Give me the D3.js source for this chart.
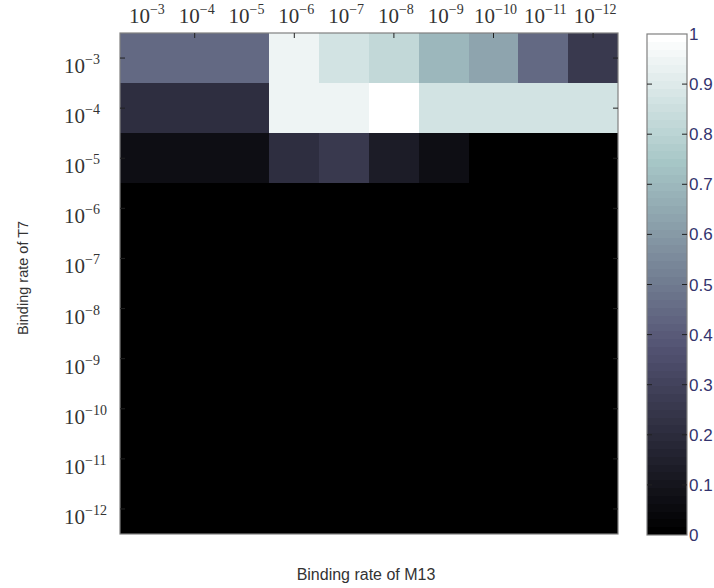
<!DOCTYPE html>
<html>
<head>
<meta charset="utf-8">
<script src="https://cdn.jsdelivr.net/npm/d3@7"></script>
<style>
  body { margin: 0; background: #fff; }
  .tick-lbl { font-family: "Liberation Serif", "DejaVu Serif", serif; fill: #333; }
  .title { font-family: "Liberation Sans", Arial, sans-serif; fill: #333; }
  .cb-lbl { font-family: "Liberation Sans", Arial, sans-serif; fill: #34346e; font-size: 17px; }
</style>
</head>
<body>
<div id="chart"></div>
<script>
// M13 binding rate (columns) and T7 binding rate (rows), exponents of 10
const m13Exp = [-3, -4, -5, -6, -7, -8, -9, -10, -11, -12];
const t7Exp = [-3, -4, -5, -6, -7, -8, -9, -10, -11, -12];

// one row per T7 rate
const row3 = [0.45, 0.45, 0.45, 0.95, 0.88, 0.82, 0.70, 0.63, 0.45, 0.25];
const row4 = [0.20, 0.20, 0.20, 0.95, 0.95, 1.00, 0.88, 0.88, 0.88, 0.88];
const row5 = [0.07, 0.07, 0.07, 0.20, 0.26, 0.13, 0.07, 0, 0, 0];
const row6 = [0, 0, 0, 0, 0, 0, 0, 0, 0, 0];
const row7 = [0, 0, 0, 0, 0, 0, 0, 0, 0, 0];
const row8 = [0, 0, 0, 0, 0, 0, 0, 0, 0, 0];
const row9 = [0, 0, 0, 0, 0, 0, 0, 0, 0, 0];
const row10 = [0, 0, 0, 0, 0, 0, 0, 0, 0, 0];
const row11 = [0, 0, 0, 0, 0, 0, 0, 0, 0, 0];
const row12 = [0, 0, 0, 0, 0, 0, 0, 0, 0, 0];
const rows = [row3, row4, row5, row6, row7, row8, row9, row10, row11, row12];

const cbTicks = [0, 0.1, 0.2, 0.3, 0.4, 0.5, 0.6, 0.7, 0.8, 0.9, 1];

// matlab "bone" colormap
function bone(v) {
  const cl = t => Math.max(0, Math.min(1, t));
  const hr = cl(v / 0.375), hg = cl((v - 0.375) / 0.375), hb = cl((v - 0.75) / 0.25);
  return d3.rgb(255 * (7 * v + hb) / 8, 255 * (7 * v + hg) / 8, 255 * (7 * v + hr) / 8);
}
// matlab colormaps have 64 levels
const quant = v => Math.round(v * 63) / 63;

const svg = d3.select("#chart").append("svg")
  .attr("width", 714)
  .attr("height", 588);

const x = d3.scaleBand().domain(m13Exp).range([120, 618]);
const y = d3.scaleBand().domain(t7Exp).range([33, 534]);

const cells = [];
rows.forEach((r, i) => r.forEach((v, j) => cells.push({ t7: t7Exp[i], m13: m13Exp[j], v: v })));

svg.append("g")
  .attr("shape-rendering", "crispEdges")
  .selectAll("rect")
  .data(cells)
  .join("rect")
  .attr("x", d => Math.round(x(d.m13)))
  .attr("y", d => Math.round(y(d.t7)))
  .attr("width", d => Math.round(x(d.m13) + x.bandwidth()) - Math.round(x(d.m13)))
  .attr("height", d => Math.round(y(d.t7) + y.bandwidth()) - Math.round(y(d.t7)))
  .attr("fill", d => bone(quant(d.v)));

svg.append("rect")
  .attr("x", 120).attr("y", 33)
  .attr("width", 498).attr("height", 501)
  .attr("fill", "none")
  .attr("stroke", "#808080")
  .attr("stroke-width", 1.2);

// inner ticks
const tickCols = m13Exp.filter((d, i) => i % 2 === 1);
svg.append("g").selectAll("line")
  .data(tickCols)
  .join("line")
  .attr("x1", d => x(d) + x.bandwidth() / 2)
  .attr("x2", d => x(d) + x.bandwidth() / 2)
  .attr("y1", 33).attr("y2", 38)
  .attr("stroke", "#222");
svg.append("g").selectAll("line")
  .data(t7Exp)
  .join("line")
  .attr("x1", 120).attr("x2", 125)
  .attr("y1", d => y(d) + y.bandwidth() / 2)
  .attr("y2", d => y(d) + y.bandwidth() / 2)
  .attr("stroke", "#222");
svg.append("g").selectAll("line")
  .data(t7Exp)
  .join("line")
  .attr("x1", 613).attr("x2", 618)
  .attr("y1", d => y(d) + y.bandwidth() / 2)
  .attr("y2", d => y(d) + y.bandwidth() / 2)
  .attr("stroke", "#222");

// 10^n labels
function powLabel(sel) {
  sel.append("tspan").attr("font-size", 21).text("10");
  sel.append("tspan").attr("font-size", 14).attr("dy", -9).text(d => "\u2212" + Math.abs(d));
}

svg.append("g").selectAll("text")
  .data(m13Exp)
  .join("text")
  .attr("class", "tick-lbl")
  .attr("x", d => x(d) + x.bandwidth() / 2 + 2)
  .attr("y", 23)
  .attr("text-anchor", "middle")
  .call(powLabel);

svg.append("g").selectAll("text")
  .data(t7Exp)
  .join("text")
  .attr("class", "tick-lbl")
  .attr("x", 64)
  .attr("y", d => y(d) + y.bandwidth() / 2 + 15)
  .call(powLabel);

// axis titles
svg.append("text")
  .attr("class", "title")
  .attr("x", 366).attr("y", 580)
  .attr("text-anchor", "middle")
  .attr("font-size", 16)
  .text("Binding rate of M13");

svg.append("text")
  .attr("class", "title")
  .attr("transform", "translate(28,278) rotate(-90)")
  .attr("text-anchor", "middle")
  .attr("font-size", 14.5)
  .text("Binding rate of T7");

// colorbar
const cbY = d3.scaleLinear().domain([0, 1]).range([535, 34]);
const levels = d3.range(64);
svg.append("g")
  .attr("shape-rendering", "crispEdges")
  .selectAll("rect")
  .data(levels)
  .join("rect")
  .attr("x", 647)
  .attr("width", 40)
  .attr("y", d => Math.round(cbY((d + 1) / 64)))
  .attr("height", d => Math.round(cbY(d / 64)) - Math.round(cbY((d + 1) / 64)))
  .attr("fill", d => bone(d / 63));

svg.append("rect")
  .attr("x", 647).attr("y", 34)
  .attr("width", 40).attr("height", 501)
  .attr("fill", "none")
  .attr("stroke", "#808080")
  .attr("stroke-width", 1.2);

const cbT = cbTicks.filter(d => d > 0 && d < 1);
svg.append("g").selectAll("line")
  .data(cbT)
  .join("line")
  .attr("x1", 647).attr("x2", 652)
  .attr("y1", d => cbY(d)).attr("y2", d => cbY(d))
  .attr("stroke", "#222");
svg.append("g").selectAll("line")
  .data(cbT)
  .join("line")
  .attr("x1", 682).attr("x2", 687)
  .attr("y1", d => cbY(d)).attr("y2", d => cbY(d))
  .attr("stroke", "#222");

svg.append("g").selectAll("text")
  .data(cbTicks)
  .join("text")
  .attr("class", "cb-lbl")
  .attr("x", 689)
  .attr("y", d => cbY(d) + 6)
  .text(d => d3.format("")(d));
</script>
</body>
</html>
